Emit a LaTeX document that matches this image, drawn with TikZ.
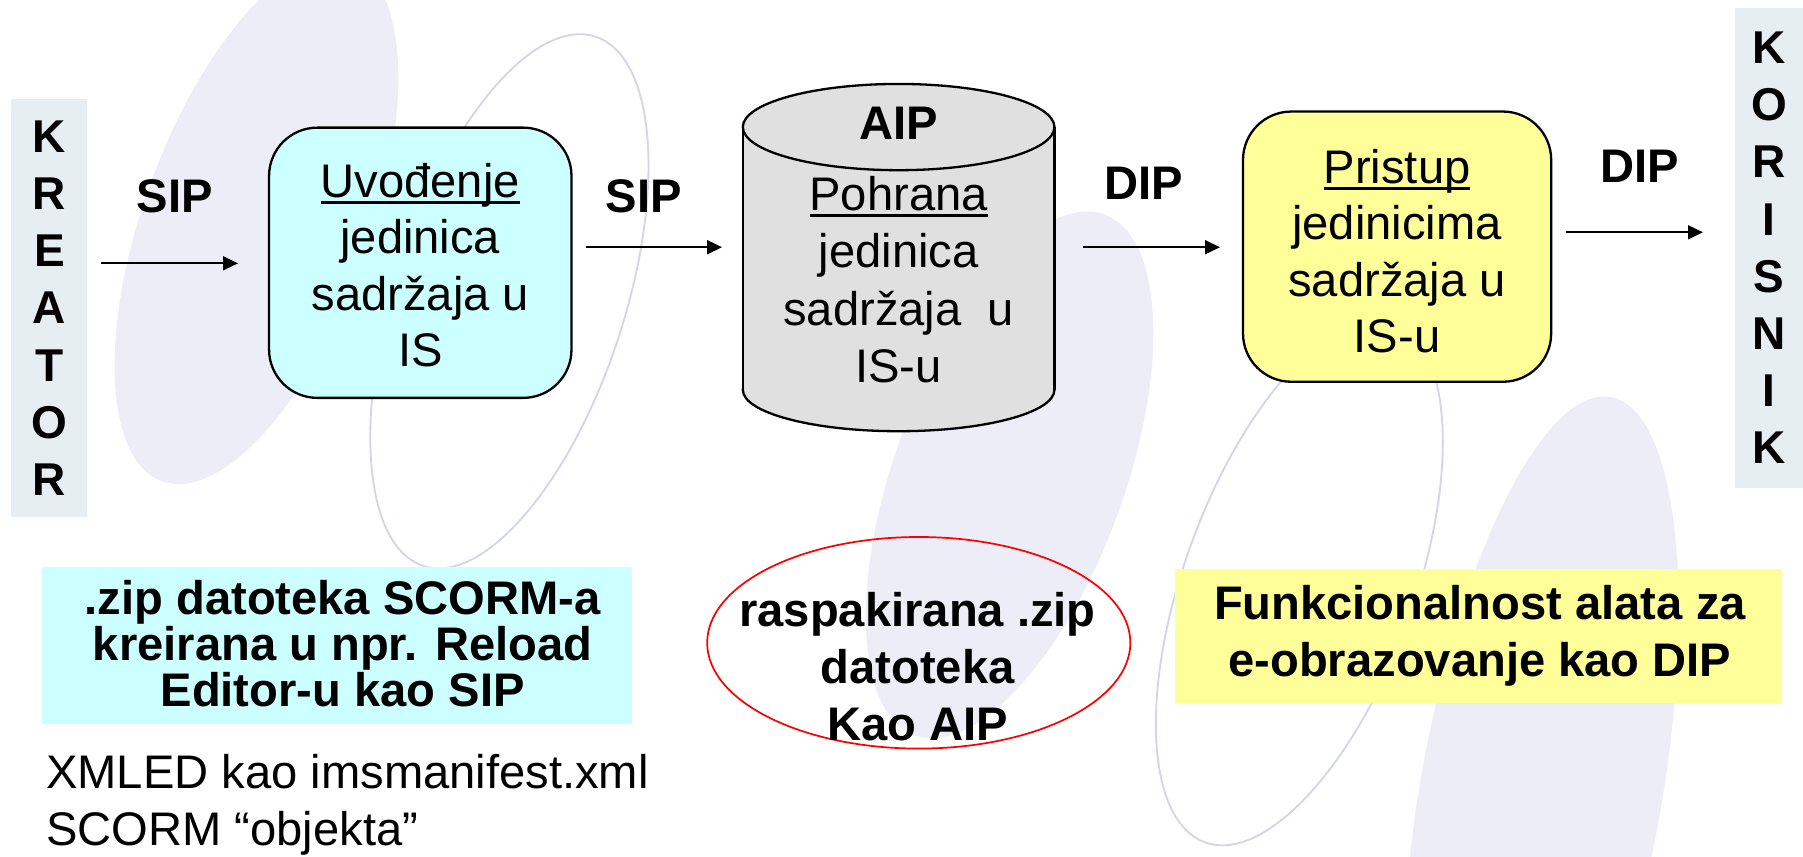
\documentclass[tikz,border=0pt]{standalone}
\usepackage{fontspec}
\setmainfont{Liberation Sans}
\usetikzlibrary{arrows.meta,shapes.geometric}
\definecolor{sidebg}{RGB}{230,238,242}
\definecolor{cyanfill}{RGB}{204,255,255}
\definecolor{yelfill}{RGB}{255,255,153}
\definecolor{cylfill}{RGB}{224,224,224}
\definecolor{bgfill}{RGB}{237,237,248}
\definecolor{bgline}{RGB}{212,212,236}
\newcommand{\ulword}[1]{\setbox0=\hbox{#1}\leavevmode\rlap{\rule[-6pt]{\wd0}{2.8pt}}\box0}
\begin{document}
\begin{tikzpicture}[x=1pt,y=-1pt,
  txt/.style={font=\fontsize{41}{49}\selectfont, align=center, inner sep=0pt},
  btxt/.style={font=\bfseries\fontsize{41}{49.5}\selectfont, align=center, inner sep=0pt},
  sidebar/.style={fill=sidebg, draw=none, inner sep=0pt, font=\bfseries\fontsize{40}{49.7}\selectfont, align=center},
  procbox/.style={draw=black, line width=2pt, rounded corners=42pt, inner sep=0pt},
  notebox/.style={draw=none, inner sep=0pt},
  arr/.style={line width=1.8pt, -{Triangle[length=13pt,width=12pt]}},
  bgblob/.style={fill=bgfill},
  bgring/.style={draw=bgline, line width=1.6pt},
]
\useasboundingbox (0,0) rectangle (1568,745);
\fill[white] (0,0) rectangle (1568,745);

% background watermark ellipses
\fill[bgblob, rotate around={-20:(223,193)}] (223,193) ellipse [x radius=98, y radius=240];
\draw[bgring, rotate around={-18:(443,262)}] (443,262) ellipse [x radius=100, y radius=242];
\fill[bgblob, rotate around={-20:(878,413)}] (878,413) ellipse [x radius=100, y radius=241];
\draw[bgring, rotate around={-20:(1130,507)}] (1130,507) ellipse [x radius=100, y radius=240];
\fill[bgblob, rotate around={-10:(1340,690)}] (1340,690) ellipse [x radius=105, y radius=350];

% side bars
\node[sidebar, minimum width=66pt, minimum height=364pt] (kreator) at (43,268) {K\\R\\E\\A\\T\\O\\R};
\node[sidebar, minimum width=59pt, minimum height=417pt] (korisnik) at (1538.5,215.5) {K\\O\\R\\I\\S\\N\\I\\K};

% process boxes
\node[procbox, fill=cyanfill, minimum width=263pt, minimum height=235pt] (uvod) at (365.5,228.5) {};
\node[txt] (uvodtxt) at (365.5,230.5) {\ulword{Uvođenje}\\jedinica\\sadržaja u\\IS};

\node[procbox, fill=yelfill, minimum width=268pt, minimum height=235pt] (pristup) at (1215,214.5) {};
\node[txt] (pristuptxt) at (1215,218.5) {\ulword{Pristup}\\jedinicima\\sadržaja u\\IS-u};

% cylinder
\fill[cylfill] (646,110.5) rectangle (917,339);
\begin{scope}
  \clip (630,339) rectangle (935,395);
  \filldraw[fill=cylfill, draw=black, line width=2pt] (781.5,339) ellipse [x radius=135.5, y radius=36];
\end{scope}
\draw[line width=2pt] (646,110.5) -- (646,339) (917,110.5) -- (917,339);
\filldraw[fill=cylfill, draw=black, line width=2pt] (781.5,110.5) ellipse [x radius=135.5, y radius=37.5];
\node[inner sep=0pt, minimum width=271pt, minimum height=301pt] (pohrana) at (781.5,224) {};
\node[btxt] (aiplbl) at (781.5,107) {AIP};
\node[txt, font=\fontsize{41}{50}\selectfont] (pohranatxt) at (781.5,243) {\ulword{Pohrana}\\jedinica\\sadržaja\ \ u\\IS-u};

% flow labels
\node[btxt] (sip1) at (152,171) {SIP};
\node[btxt] (sip2) at (560,171) {SIP};
\node[btxt] (dip1) at (995,159) {DIP};
\node[btxt] (dip2) at (1426,145) {DIP};

% arrows
\coordinate (a1s) at (88,229);   \coordinate (a1e) at (207,229);
\coordinate (a2s) at (510,215);  \coordinate (a2e) at (628,215);
\coordinate (a3s) at (942,215);  \coordinate (a3e) at (1061,215);
\coordinate (a4s) at (1362,202); \coordinate (a4e) at (1481,202);
\draw[arr] (a1s) -- (a1e);
\draw[arr] (a2s) -- (a2e);
\draw[arr] (a3s) -- (a3e);
\draw[arr] (a4s) -- (a4e);

% notes
\node[notebox, fill=cyanfill, minimum width=513pt, minimum height=137pt] (sipnote) at (293,561.5) {};
\node[btxt, font=\bfseries\fontsize{41}{40}\selectfont] (sipnotetxt) at (298,560) {.zip datoteka SCORM-a\\kreirana u npr. Reload\\Editor-u kao SIP};

\node[ellipse, draw=red, line width=1.5pt, minimum width=368pt, minimum height=184pt, inner sep=0pt] (redell) at (799,559) {};
\node[btxt] (aipnotetxt) at (798,580) {raspakirana .zip\\datoteka\\Kao AIP};

\node[notebox, fill=yelfill, minimum width=528pt, minimum height=116pt] (dipnote) at (1286,553) {};
\node[btxt, font=\bfseries\fontsize{41}{50}\selectfont] (dipnotetxt) at (1287,553) {Funkcionalnost alata za\\e-obrazovanje kao DIP};

\node[txt, font=\fontsize{41}{50}\selectfont, align=left, anchor=west] (xmled) at (40,700) {XMLED kao imsmanifest.xml\\SCORM “objekta”};
\end{tikzpicture}
\end{document}
